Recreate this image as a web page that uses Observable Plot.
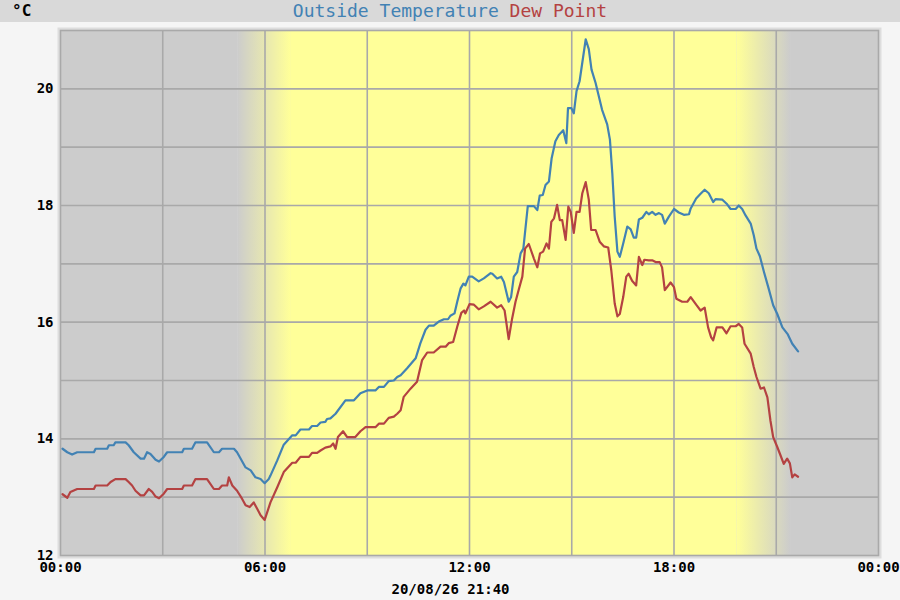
<!DOCTYPE html>
<html><head><meta charset="utf-8">
<script src="https://cdn.jsdelivr.net/npm/d3@7"></script>
<script src="https://cdn.jsdelivr.net/npm/@observablehq/plot@0.6"></script>
<style>
body{margin:0;background:#f5f5f5;width:900px;height:600px;overflow:hidden;font-family:"DejaVu Sans Mono",monospace}
#bar{position:relative;height:22px;background:#d9d9d9;}
#unit{position:absolute;left:12px;top:0;line-height:22px;font-size:16px;font-weight:bold;color:#000}
#title{text-align:center;line-height:22px;font-size:18px;}
#chart svg{display:block}
</style></head><body>
<div id="bar"><span id="unit">°C</span><div id="title"><span style="color:#4282b4">Outside Temperature</span> <span style="color:#b44242">Dew Point</span></div></div>
<div id="chart"></div>
<script>
// Outside temperature (hours since 00:00, °C)
const tempHours = [0.06,0.20,0.34,0.49,0.98,1.03,1.37,1.42,1.56,1.61,1.91,2.00,2.15,2.35,2.45,2.54,2.64,2.79,2.89,3.03,3.13,3.57,3.62,3.86,3.96,4.30,4.50,4.65,4.74,5.09,5.18,5.43,5.58,5.72,5.87,5.99,6.11,6.16,6.36,6.55,6.80,6.90,7.04,7.29,7.38,7.53,7.63,7.77,7.82,7.92,8.07,8.36,8.61,8.80,9.00,9.24,9.34,9.49,9.63,9.78,9.88,9.98,10.17,10.42,10.56,10.71,10.81,10.95,11.10,11.25,11.37,11.44,11.56,11.64,11.74,11.82,11.88,11.98,12.08,12.27,12.42,12.62,12.67,12.81,12.93,13.01,13.15,13.22,13.30,13.40,13.50,13.58,13.71,13.89,13.99,14.06,14.15,14.23,14.33,14.41,14.52,14.62,14.75,14.84,14.89,14.99,15.06,15.14,15.23,15.41,15.50,15.58,15.70,15.89,16.04,16.12,16.19,16.26,16.34,16.41,16.51,16.63,16.73,16.82,16.89,16.97,17.07,17.19,17.26,17.36,17.46,17.56,17.65,17.73,17.85,18.00,18.14,18.29,18.44,18.49,18.65,18.78,18.90,19.02,19.15,19.22,19.42,19.56,19.66,19.81,19.90,20.00,20.10,20.25,20.34,20.42,20.52,20.64,20.78,20.91,21.03,21.18,21.34,21.47,21.64];
const tempValues = [13.83,13.77,13.73,13.77,13.77,13.83,13.83,13.89,13.89,13.94,13.94,13.89,13.77,13.66,13.66,13.77,13.74,13.64,13.61,13.69,13.77,13.77,13.83,13.83,13.94,13.94,13.77,13.77,13.83,13.83,13.77,13.51,13.46,13.34,13.31,13.24,13.31,13.37,13.63,13.90,14.06,14.06,14.16,14.16,14.22,14.22,14.28,14.29,14.34,14.35,14.43,14.66,14.66,14.78,14.83,14.83,14.89,14.89,14.99,15.00,15.06,15.09,15.21,15.38,15.64,15.87,15.94,15.94,16.01,16.05,16.05,16.11,16.15,16.35,16.58,16.66,16.63,16.78,16.78,16.70,16.75,16.84,16.83,16.75,16.78,16.69,16.35,16.43,16.78,16.86,17.18,17.26,17.99,17.99,17.92,18.17,18.18,18.35,18.41,18.81,19.10,19.21,19.29,19.07,19.67,19.67,19.58,19.96,20.13,20.85,20.68,20.33,20.10,19.64,19.39,19.13,18.55,17.81,17.21,17.12,17.35,17.64,17.59,17.45,17.45,17.76,17.79,17.89,17.85,17.89,17.84,17.87,17.84,17.69,17.81,17.94,17.88,17.84,17.85,17.95,18.12,18.20,18.27,18.21,18.06,18.11,18.10,18.02,17.94,17.94,18.00,17.94,17.83,17.69,17.49,17.26,17.13,16.86,16.57,16.29,16.14,15.91,15.79,15.63,15.50];
// Dew point (hours since 00:00, °C)
const dewHours = [0.06,0.20,0.29,0.49,0.98,1.03,1.37,1.47,1.61,1.91,2.00,2.10,2.20,2.35,2.45,2.59,2.69,2.79,2.89,3.03,3.13,3.57,3.62,3.86,3.96,4.30,4.50,4.65,4.74,4.89,4.94,5.04,5.18,5.33,5.43,5.55,5.67,5.77,5.87,5.99,6.16,6.36,6.55,6.80,6.90,7.04,7.29,7.38,7.53,7.63,7.77,7.92,8.00,8.07,8.14,8.29,8.41,8.65,8.80,8.95,9.24,9.34,9.49,9.63,9.78,9.88,9.98,10.07,10.27,10.46,10.61,10.76,10.95,11.15,11.30,11.39,11.52,11.64,11.76,11.84,11.88,12.00,12.13,12.27,12.42,12.62,12.81,12.93,13.03,13.15,13.25,13.35,13.45,13.55,13.63,13.74,13.89,13.99,14.07,14.16,14.26,14.33,14.40,14.48,14.57,14.65,14.72,14.82,14.90,14.97,15.06,15.14,15.23,15.31,15.41,15.50,15.57,15.70,15.82,15.94,16.07,16.16,16.26,16.34,16.41,16.51,16.60,16.67,16.77,16.89,16.97,17.07,17.13,17.26,17.36,17.46,17.58,17.65,17.73,17.90,18.00,18.07,18.24,18.39,18.49,18.65,18.78,18.90,19.00,19.09,19.15,19.25,19.42,19.54,19.66,19.81,19.90,20.00,20.07,20.25,20.34,20.42,20.54,20.64,20.74,20.83,20.91,21.03,21.13,21.22,21.32,21.40,21.47,21.54,21.64];
const dewValues = [13.05,12.99,13.09,13.14,13.14,13.20,13.20,13.26,13.31,13.31,13.26,13.20,13.11,13.03,13.03,13.14,13.09,13.01,12.98,13.06,13.14,13.14,13.20,13.20,13.31,13.31,13.14,13.14,13.20,13.20,13.34,13.20,13.11,12.97,12.86,12.83,12.91,12.80,12.69,12.61,12.91,13.17,13.43,13.59,13.59,13.69,13.69,13.76,13.76,13.80,13.85,13.87,13.92,13.83,14.03,14.13,14.03,14.03,14.13,14.20,14.20,14.26,14.26,14.36,14.38,14.43,14.49,14.72,14.86,14.98,15.35,15.48,15.48,15.58,15.58,15.64,15.66,15.92,16.16,16.20,16.15,16.31,16.30,16.22,16.27,16.35,16.25,16.29,16.20,15.71,16.06,16.35,16.57,16.78,17.26,17.34,17.09,16.94,17.18,17.21,17.35,17.26,17.72,17.78,18.01,17.75,17.75,17.41,17.98,17.89,17.53,17.89,17.89,18.21,18.40,18.10,17.58,17.58,17.38,17.30,17.28,16.89,16.32,16.10,16.14,16.43,16.78,16.83,16.71,16.63,17.12,16.98,17.07,17.06,17.06,17.03,17.03,16.94,16.55,16.68,16.60,16.40,16.35,16.35,16.43,16.30,16.20,16.25,15.91,15.74,15.69,15.91,15.91,15.81,15.93,15.93,15.97,15.91,15.63,15.46,15.23,15.06,14.86,14.88,14.71,14.31,14.03,13.86,13.71,13.57,13.66,13.58,13.34,13.39,13.35];

// Day / night background (hours)
const nightSpans = [[0, 5.2], [21.42, 24]];
const dawnSpan = [[5.2, 6.75]];
const daySpan = [[6.75, 19.85]];
const duskSpan = [[19.85, 21.42]];

const xTickHours = [0, 6, 12, 18, 24];
const xGridHours = [3, 6, 9, 12, 15, 18, 21];
const yTickValues = [12, 14, 16, 18, 20];
const yGridValues = [13, 14, 15, 16, 17, 18, 19, 20];
const footer = "20/08/26 21:40";

const temp = tempHours.map((h, i) => ({h, v: tempValues[i]}));
const dew = dewHours.map((h, i) => ({h, v: dewValues[i]}));
const fmt = h => String(h % 24).padStart(2, "0") + ":00";
const gridStyle = {stroke: "#a9a9a9", strokeOpacity: 1, strokeWidth: 1.6};

const plot = Plot.plot({
  width: 900, height: 578,
  marginLeft: 60, marginRight: 22, marginTop: 8, marginBottom: 45,
  style: {background: "transparent", fontFamily: "DejaVu Sans Mono", fontSize: "14px", fontWeight: "bold", color: "#000", overflow: "visible"},
  x: {domain: [0, 24], ticks: xTickHours, tickFormat: fmt, tickSize: 0, tickPadding: 7, label: null},
  y: {domain: [12, 21], ticks: yTickValues, tickSize: 0, tickPadding: 7, label: null},
  marks: [
    Plot.frame({fill: "#dddddd", inset: -3}),
    Plot.rect(nightSpans, {x1: d => d[0], x2: d => d[1], fill: "#cccccc"}),
    Plot.rect(dawnSpan, {x1: d => d[0], x2: d => d[1], fill: "url(#dawn)"}),
    Plot.rect(daySpan, {x1: d => d[0], x2: d => d[1], fill: "#ffff99"}),
    Plot.rect(duskSpan, {x1: d => d[0], x2: d => d[1], fill: "url(#dusk)"}),
    Plot.gridX(xGridHours, gridStyle),
    Plot.gridY(yGridValues, gridStyle),
    Plot.frame({stroke: "#a9a9a9", strokeWidth: 1.6}),
    Plot.line(temp, {x: "h", y: "v", stroke: "#4282b4", strokeWidth: 2.2}),
    Plot.line(dew, {x: "h", y: "v", stroke: "#b44242", strokeWidth: 2.2}),
    Plot.text([footer], {text: d => d, frameAnchor: "bottom", dx: -19, dy: 34, lineAnchor: "middle", fontSize: 14, fontWeight: "bold", fill: "#000"})
  ]
});

const svg = d3.select(plot);
const defs = svg.insert("defs", ":first-child");
function grad(id, c0, c1) {
  const g = defs.append("linearGradient").attr("id", id).attr("x1", 0).attr("x2", 1).attr("y1", 0).attr("y2", 0);
  g.append("stop").attr("offset", 0).attr("stop-color", c0);
  g.append("stop").attr("offset", 1).attr("stop-color", c1);
}
grad("dawn", "#cccccc", "#ffff99");
grad("dusk", "#ffff99", "#cccccc");
document.getElementById("chart").appendChild(plot);
</script>
</body></html>
